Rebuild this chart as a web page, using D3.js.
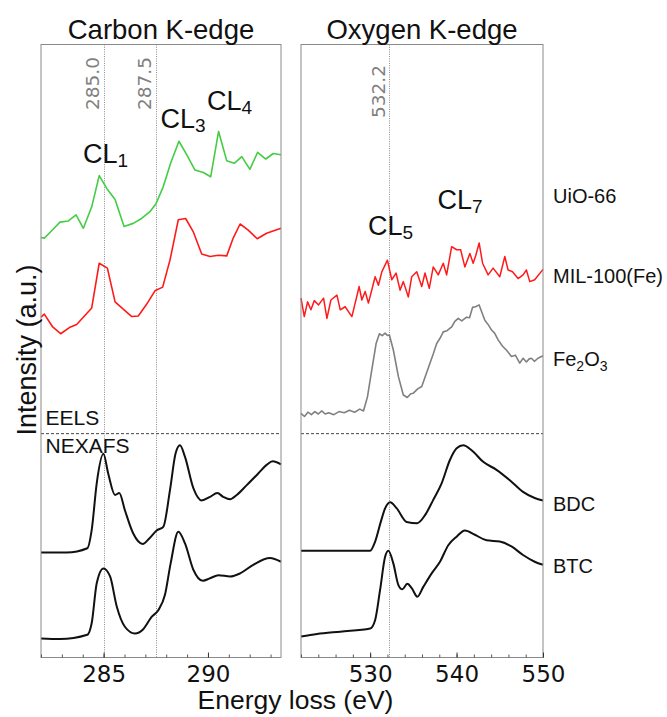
<!DOCTYPE html>
<html><head><meta charset="utf-8">
<script src="https://cdn.jsdelivr.net/npm/d3@7"></script>
<style>body{margin:0;background:#fff}svg{display:block}</style>
</head><body>
<svg id="chart" width="667" height="717"></svg>
<script>
// ---------- DATA ----------
// Carbon K-edge, EELS (UiO-66)
const cUiOEnergy = [282.00,282.16,282.51,282.91,283.31,283.68,284.03,284.43,284.79,285.15,285.55,285.98,286.42,286.82,287.22,287.51,287.86,288.21,288.61,288.98,289.38,289.78,290.13,290.51,290.90,291.26,291.62,292.01,292.38,292.77,293.13,293.50];
const cUiOIntensity = [68.6,68.5,69.7,71.1,71.3,72.3,70.1,73.6,78.7,76.6,74.8,70.4,70.9,71.7,72.8,74.1,76.9,80.7,84.3,82.1,79.6,79.2,78.5,85.9,81.1,80.7,81.8,79.7,82.5,81.4,82.3,82.1];
// Carbon K-edge, EELS (MIL-100(Fe))
const cMILEnergy = [282.00,282.16,282.56,282.94,283.36,283.71,284.06,284.43,284.79,285.18,285.55,285.94,286.35,286.66,287.06,287.46,287.83,288.18,288.58,288.93,289.30,289.70,290.10,290.50,290.90,291.21,291.54,291.93,292.36,292.81,293.50];
const cMILIntensity = [55.6,56.1,54.0,52.9,53.9,54.4,55.7,57.1,64.4,63.6,58.1,56.9,55.7,55.8,57.7,59.9,60.5,64.9,71.5,71.7,69.5,65.9,65.5,65.7,65.6,68.5,70.8,69.8,68.4,69.3,70.1];
// Carbon K-edge, NEXAFS (BDC)
const cBDCEnergy = [282.0,283.23,284.22,284.43,284.67,284.99,285.22,285.55,285.75,286.02,286.42,286.87,287.19,287.54,287.86,288.18,288.45,288.66,288.90,289.30,289.70,290.10,290.45,290.73,291.06,291.38,291.86,292.41,292.81,293.10,293.50];
const cBDCIntensity = [17.2,17.2,17.9,20.9,28.5,33.3,30.1,26.6,26.9,24.1,20.3,18.6,19.5,20.8,21.4,27.4,33.4,34.7,32.8,27.7,25.7,26.3,26.9,26.3,25.9,26.6,28.2,30.1,31.5,32.1,31.6];
// Carbon K-edge, NEXAFS (BTC)
const cBTCEnergy = [282.0,282.91,284.22,284.43,284.67,284.99,285.31,285.63,286.02,286.50,286.90,287.30,287.62,287.94,288.21,288.58,288.90,289.30,289.75,290.10,290.50,291.06,291.54,292.17,292.97,293.50];
const cBTCIntensity = [3.2,3.1,3.8,5.7,12.2,14.6,13.3,8.4,5.1,4.0,4.7,6.7,7.8,10.3,15.4,20.6,18.7,14.4,12.6,13.0,13.5,13.3,13.8,15.2,16.3,15.7];

// Oxygen K-edge, EELS (MIL-100(Fe))
const oMILEnergy = [522.0,522.38,522.76,523.15,523.54,524.03,524.61,525.0,525.46,526.16,526.54,527.11,527.89,528.73,529.04,529.42,529.80,530.58,530.96,531.35,532.0,532.50,533.0,533.46,533.84,534.42,534.81,535.39,535.97,536.35,536.84,537.30,537.88,538.46,538.85,539.43,540.01,540.47,540.96,541.54,541.92,542.23,542.61,543.01,543.65,544.23,545.00,545.58,545.96,546.47,547.12,547.69,548.08,548.47,549.04,550.0];
const oMILIntensity = [58.7,55.7,58.1,56.8,58.3,57.6,58.7,55.4,58.4,59.2,56.8,57.3,55.7,60.6,58.4,59.8,57.9,62.2,60.8,63.0,64.9,61.7,62.8,60.0,61.4,58.9,62.2,63.0,60.6,62.8,60.3,63.8,62.5,64.4,62.5,67.1,66.6,66.6,63.8,66.0,64.4,65.7,67.7,64.4,62.5,63.6,62.2,65.5,63.3,63.0,61.9,62.5,63.3,61.4,61.7,63.4];
// Oxygen K-edge, EELS (Fe2O3)
const oFeEnergy = [522.0,522.4,522.8,523.2,523.6,524.0,524.4,524.8,525.2,525.8,526.4,527.0,527.6,528.2,528.8,529.23,529.69,530.19,530.69,531.07,531.4,531.73,532.0,532.23,532.69,533.27,533.84,534.30,534.7,535.00,535.5,535.97,536.4,536.92,537.3,537.70,538.1,538.46,538.9,539.43,539.8,540.19,540.6,541.16,541.5,541.85,542.2,542.61,543.27,543.7,544.05,544.4,544.81,545.3,545.78,546.35,546.8,547.31,547.7,548.08,548.4,548.66,549.0,549.42,550.0];
const oFeIntensity = [39.9,39.4,40.1,39.7,40.2,39.8,40.3,39.8,40.0,39.7,40.2,40.0,40.4,40.1,40.6,40.3,42.6,47.0,51.3,52.9,52.6,53.0,52.6,52.7,50.2,45.9,42.9,42.5,43.1,43.2,43.9,44.3,46.0,48.1,49.6,51.3,52.2,53.2,53.4,54.0,54.9,55.4,55.0,55.6,55.5,57.2,57.3,57.6,55.1,54.3,53.5,53.0,51.9,50.9,50.2,49.2,49.4,48.1,48.9,48.3,48.8,48.9,48.4,48.9,49.3];
// Oxygen K-edge, NEXAFS (BDC)
const oBDCEnergy = [522.0,524.61,530.0,530.58,531.23,531.73,532.31,533.08,534.23,535.46,536.35,537.30,538.27,539.23,540.01,540.77,541.74,543.08,544.62,546.16,547.69,549.04,550.0];
const oBDCIntensity = [17.5,17.5,17.5,19.0,22.2,24.4,25.4,24.4,22.2,22.0,23.3,25.8,28.5,32.3,34.2,34.7,33.9,32.0,30.7,29.0,27.1,26.1,25.7];
// Oxygen K-edge, NEXAFS (BTC)
const oBTCEnergy = [522.0,523.85,526.54,530.0,530.58,531.15,531.73,532.11,532.69,533.27,533.73,534.30,534.81,535.46,536.15,537.12,538.08,539.04,540.01,540.96,542.12,543.47,545.0,546.35,547.69,549.04,550.0];
const oBTCIntensity = [3.5,3.9,4.3,4.8,6.2,11.1,16.5,17.5,15.4,11.9,11.2,12.1,11.4,10.0,11.6,13.8,15.7,18.4,19.8,20.8,20.1,19.2,19.0,18.2,16.8,15.7,15.2];

// Axes, ticks, markers, labels
const carbonDomain = [282, 293.5];
const oxygenDomain = [522, 550];
const intensityDomain = [0, 100];
const carbonTicks = [285, 290];
const oxygenTicks = [530, 540, 550];
const carbonMinorStep = 1;
const oxygenMinorStep = 2;
const carbonPeaks = [285.0, 287.5];
const oxygenPeaks = [532.2];
const eelsNexafsBoundary = 36.6;
const panelTitles = ["Carbon K-edge", "Oxygen K-edge"];
const sampleLabels = ["UiO-66", "MIL-100(Fe)", "Fe2O3", "BDC", "BTC"];
const carbonPeakNames = [["CL","1"],["CL","3"],["CL","4"]];
const oxygenPeakNames = [["CL","5"],["CL","7"]];

// ---------- DRAWING ----------
const svg = d3.select("#chart");
const SANS = "'Liberation Sans', Arial, Helvetica, sans-serif";
const DEJA = "'DejaVu Sans', sans-serif";
const frameTop = 44.5, frameBottom = 657.5;
const yScale = d3.scaleLinear().domain(intensityDomain).range([658, 45]);
const xC = d3.scaleLinear().domain(carbonDomain).range([41, 281]);
const xO = d3.scaleLinear().domain(oxygenDomain).range([301, 543]);

function zip(xs, ys){ return xs.map((v,i)=>[v, ys[i]]); }

function panel(x, series, peaks, ticks, minorStep, peakLabelTop){
  const g = svg.append("g");
  const [x0, x1] = x.range();
  peaks.forEach(p=>{
    const px = Math.round(x(p)) + 0.5;
    g.append("line").attr("x1", px).attr("x2", px).attr("y1", frameTop).attr("y2", frameBottom)
      .attr("stroke", "#8c8c8c").attr("stroke-width", 1).attr("stroke-dasharray", "1,1.3");
    g.append("text").attr("transform", `translate(${x(p)-4.5},${peakLabelTop}) rotate(-90)`)
      .attr("text-anchor", "end").attr("font-family", DEJA).attr("font-size", 18.5)
      .attr("fill", "#808080").text(p.toFixed(1));
  });
  g.append("line").attr("x1", x0).attr("x2", x1).attr("y1", yScale(eelsNexafsBoundary)).attr("y2", yScale(eelsNexafsBoundary))
    .attr("stroke", "#444").attr("stroke-width", 1).attr("stroke-dasharray", "3,2");
  series.forEach(s=>{
    const line = d3.line().x(d=>x(d[0])).y(d=>yScale(d[1])).curve(s.smooth ? d3.curveMonotoneX : d3.curveLinear);
    g.append("path").datum(zip(s.e, s.i)).attr("d", line).attr("fill", "none")
      .attr("stroke", s.color).attr("stroke-width", s.w).attr("stroke-linejoin", "round");
  });
  g.append("rect").attr("x", x0).attr("y", frameTop).attr("width", x1-x0).attr("height", frameBottom-frameTop)
    .attr("fill", "none").attr("stroke", "#8a8a8a").attr("stroke-width", 1);
  const [d0, d1] = x.domain();
  const minor = d3.range(Math.ceil(d0), d1 + 1e-9, minorStep);
  g.append("g").attr("transform", `translate(0,${frameBottom})`)
    .call(d3.axisBottom(x).tickValues(minor).tickSize(-3).tickFormat(""))
    .call(a=>{a.select(".domain").remove(); a.selectAll("line").attr("stroke", "#555");});
  g.append("g").attr("transform", `translate(0,${frameBottom})`)
    .call(d3.axisBottom(x).tickValues(ticks).tickSize(-5).tickPadding(8).tickFormat(d3.format("d")))
    .call(a=>{a.select(".domain").remove(); a.selectAll("line").attr("stroke", "#333");
      a.selectAll("text").attr("font-family", DEJA).attr("font-size", 23).attr("fill", "#111");});
  return g;
}

panel(xC, [
  {e:cUiOEnergy, i:cUiOIntensity, color:"#44cc44", w:1.6},
  {e:cMILEnergy, i:cMILIntensity, color:"#ff1a1a", w:1.6},
  {e:cBDCEnergy, i:cBDCIntensity, color:"#111", w:2, smooth:true},
  {e:cBTCEnergy, i:cBTCIntensity, color:"#111", w:2, smooth:true}
], carbonPeaks, carbonTicks, carbonMinorStep, 57);

panel(xO, [
  {e:oMILEnergy, i:oMILIntensity, color:"#ff1a1a", w:1.5},
  {e:oFeEnergy, i:oFeIntensity, color:"#808080", w:1.6},
  {e:oBDCEnergy, i:oBDCIntensity, color:"#111", w:2, smooth:true},
  {e:oBTCEnergy, i:oBTCIntensity, color:"#111", w:2, smooth:true}
], oxygenPeaks, oxygenTicks, oxygenMinorStep, 65);

[[xC, panelTitles[0]], [xO, panelTitles[1]]].forEach(([x, t])=>{
  const r = x.range();
  svg.append("text").attr("x", (r[0]+r[1])/2).attr("y", 39).attr("text-anchor", "middle")
    .attr("font-family", SANS).attr("font-size", 27.5).attr("fill", "#111").text(t);
});

svg.append("text").attr("x", 45.5).attr("y", 425).attr("font-family", SANS).attr("font-size", 21).attr("fill", "#111").text("EELS");
svg.append("text").attr("x", 45.5).attr("y", 453).attr("font-family", SANS).attr("font-size", 21).attr("fill", "#111").text("NEXAFS");

function cl(px, py, parts){
  const t = svg.append("text").attr("x", px).attr("y", py).attr("font-family", SANS).attr("font-size", 27).attr("fill", "#111");
  t.append("tspan").text(parts[0]);
  t.append("tspan").attr("font-size", 19).attr("dy", 4).text(parts[1]);
}
cl(83, 163, carbonPeakNames[0]);
cl(160.5, 128, carbonPeakNames[1]);
cl(207, 110, carbonPeakNames[2]);
cl(368, 235, oxygenPeakNames[0]);
cl(437.5, 209, oxygenPeakNames[1]);

const sx = 553;
const sampleY = [203, 283, 365.5, 510.5, 573];
sampleLabels.forEach((s, i)=>{
  const t = svg.append("text").attr("x", sx).attr("y", sampleY[i]).attr("font-family", SANS)
    .attr("font-size", 20).attr("fill", "#111");
  if (s === "Fe2O3") {
    t.append("tspan").text("Fe");
    t.append("tspan").attr("font-size", 14).attr("dy", 5).text("2");
    t.append("tspan").attr("dy", -5).text("O");
    t.append("tspan").attr("font-size", 14).attr("dy", 5).text("3");
  } else t.text(s);
});

svg.append("text").attr("transform", "translate(36,350) rotate(-90)").attr("text-anchor", "middle")
  .attr("font-family", SANS).attr("font-size", 27).attr("fill", "#111").text("Intensity (a.u.)");
svg.append("text").attr("x", 295.5).attr("y", 709).attr("text-anchor", "middle")
  .attr("font-family", SANS).attr("font-size", 26.5).attr("fill", "#111").text("Energy loss (eV)");
</script>
</body></html>
